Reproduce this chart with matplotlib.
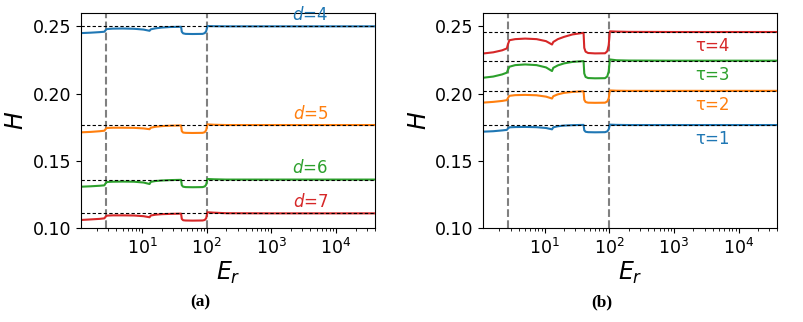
import matplotlib
matplotlib.use("Agg")
import matplotlib.pyplot as plt

# Er samples (shared by every curve)
er = [1.15, 1.6, 2.2, 2.6, 2.72, 2.85, 3.5, 5, 7.5, 10.5, 13.0, 13.6, 16, 20, 27,
      40, 41, 43, 47, 60, 86, 93, 98, 102, 130, 200, 1000, 40000]

# panel (a): H vs Er for d = 4..7
d_labels = ["4", "5", "6", "7"]
d_limits = [0.2500, 0.1767, 0.1362, 0.1111]
h_d4 = [.2450, .2453, .2457, .2460, .2472, .2480, .2483, .2484, .2482, .2476, .2467, .2478, .2485, .2491,
        .2495, .2497, .2460, .2448, .2444, .2443, .2444, .2450, .2465, .2502, .2501, .2500, .2500, .2500]
h_d5 = [.1713, .1716, .1721, .1725, .1737, .1745, .1747, .1747, .1746, .1742, .1736, .1747, .1754, .1759,
        .1762, .1764, .1722, .1711, .1709, .1708, .1709, .1714, .1730, .1772, .1769, .1767, .1767, .1767]
h_d6 = [.1309, .1312, .1316, .1319, .1334, .1344, .1346, .1347, .1346, .1340, .1329, .1345, .1351, .1355,
        .1358, .1360, .1320, .1309, .1306, .1305, .1306, .1311, .1325, .1366, .1364, .1362, .1362, .1362]
h_d7 = [.1062, .1066, .1070, .1074, .1086, .1094, .1096, .1096, .1095, .1090, .1082, .1095, .1101, .1105,
        .1107, .1109, .1070, .1060, .1058, .1057, .1058, .1062, .1076, .1119, .1116, .1112, .1111, .1111]

# panel (b): H vs Er for tau = 1..4
tau_labels = ["1", "2", "3", "4"]
tau_limits = [0.1767, 0.2021, 0.2245, 0.2458]
h_t1 = [.1718, .1721, .1727, .1731, .1742, .1750, .1752, .1753, .1751, .1745, .1735, .1750, .1758, .1763,
        .1766, .1768, .1728, .1717, .1714, .1713, .1714, .1720, .1735, .1770, .1768, .1767, .1767, .1767]
h_t2 = [.1934, .1939, .1946, .1952, .1970, .1984, .1989, .1991, .1988, .1978, .1964, .1981, .1995, .2006,
        .2013, .2018, .1955, .1938, .1933, .1932, .1933, .1942, .1965, .2024, .2022, .2021, .2021, .2021]
h_t3 = [.2119, .2127, .2143, .2156, .2180, .2200, .2212, .2217, .2212, .2195, .2168, .2192, .2210, .2225,
        .2236, .2242, .2150, .2124, .2116, .2114, .2115, .2128, .2165, .2254, .2248, .2246, .2245, .2245]
h_t4 = [.2299, .2307, .2322, .2336, .2370, .2397, .2405, .2409, .2405, .2390, .2365, .2384, .2405, .2422,
        .2440, .2452, .2340, .2312, .2302, .2299, .2300, .2315, .2360, .2463, .2461, .2459, .2458, .2458]

regime_edges = [2.72, 100]
label_er = 4000
colors = ["C0", "C1", "C2", "C3"]

fig = plt.figure(figsize=(8.04, 3.22), dpi=100)
ax_a = fig.add_axes([0.1004, 0.291, 0.366, 0.669])
ax_b = fig.add_axes([0.601, 0.291, 0.366, 0.669])


def setup(ax):
    for x in regime_edges:
        ax.axvline(x, color="gray", ls="--", lw=1.5, zorder=1)
    ax.set_xscale("log")
    ax.set_xlim(1.12, 4e4)
    ax.set_ylim(0.10, 0.26)
    ax.set_yticks([0.10, 0.15, 0.20, 0.25])
    ax.tick_params(labelsize=12.5)
    ax.set_xlabel("$E_r$", fontsize=17, labelpad=1)
    ax.set_ylabel("$H$", fontsize=17, labelpad=3)


# (a)
setup(ax_a)
for h, lim, lab, c in zip([h_d4, h_d5, h_d6, h_d7], d_limits, d_labels, colors):
    ax_a.axhline(lim, color="k", ls=(0, (3, 2)), lw=0.8, zorder=3)
    ax_a.plot(er, h, color=c, lw=1.5, zorder=2)
    ax_a.text(label_er, lim + 0.0016, "$d$=" + lab, color=c, fontsize=12,
              ha="center", va="bottom")

# (b)
setup(ax_b)
for h, lim, lab, c in zip([h_t1, h_t2, h_t3, h_t4], tau_limits, tau_labels, colors):
    ax_b.axhline(lim, color="k", ls=(0, (3, 2)), lw=0.8, zorder=3)
    ax_b.plot(er, h, color=c, lw=1.5, zorder=2)
    ax_b.text(label_er, lim - 0.0038, "\u03c4=" + lab, color=c, fontsize=12,
              ha="center", va="top")

fig.text(0.249, 0.05, "(a)", fontsize=12.5, fontweight="bold", family="Liberation Serif", ha="center")
fig.text(0.749, 0.05, "(b)", fontsize=12.5, fontweight="bold", family="Liberation Serif", ha="center")

fig.savefig("out.png", dpi=100)
